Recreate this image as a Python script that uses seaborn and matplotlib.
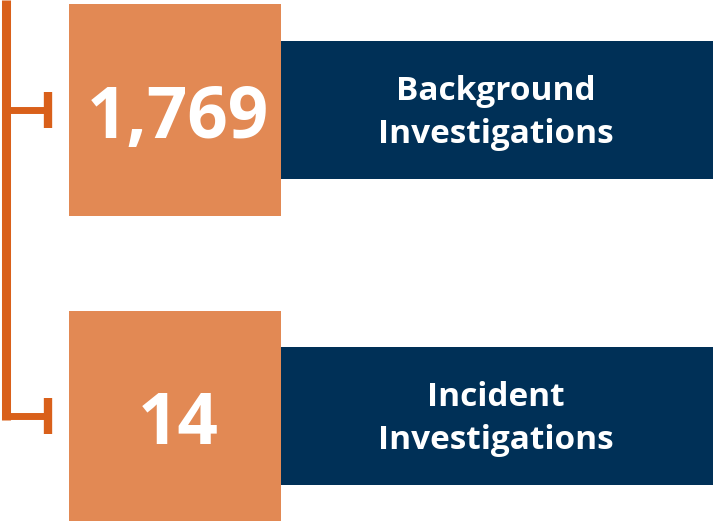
import matplotlib
matplotlib.use("Agg")
import matplotlib.pyplot as plt
import seaborn as sns
from matplotlib.patches import Rectangle

counts = ["1,769", "14"]
labels = ["Background\nInvestigations", "Incident\nInvestigations"]

ORANGE = "#E28954"
NAVY = "#003057"
BRACKET = "#D9601A"

sns.set_theme(style="white")
plt.rcParams["font.family"] = ["Open Sans", "DejaVu Sans"]

W, H = 713, 521
fig = plt.figure(figsize=(W / 100, H / 100), dpi=100)
ax = fig.add_axes([0, 0, 1, 1])
ax.set_xlim(0, W)
ax.set_ylim(H, 0)
ax.axis("off")

# layout (pixels)
box_tops = [4, 311]
box_h = [212, 210]
navy_tops = [41, 347]
navy_h = 138
branch_y = [110, 416]

# bracket
ax.plot([6, 6], [0, branch_y[-1] + 4], color=BRACKET, lw=6.5, solid_capstyle="butt")
for by in branch_y:
    ax.plot([6, 48], [by, by], color=BRACKET, lw=5, solid_capstyle="butt")
    ax.plot([48, 48], [by - 18, by + 18], color=BRACKET, lw=6, solid_capstyle="butt")

for i, (c, lab) in enumerate(zip(counts, labels)):
    ax.add_patch(Rectangle((281, navy_tops[i]), W - 281, navy_h, color=NAVY, lw=0))
    ax.add_patch(Rectangle((69, box_tops[i]), 212, box_h[i], color=ORANGE, lw=0))
    ax.text(178, box_tops[i] + box_h[i] / 2 + 9, c, color="white", fontsize=51,
            fontweight="bold", ha="center", va="center")
    ax.text(496, navy_tops[i] + navy_h / 2 + 3, lab, color="white", fontsize=24,
            fontweight="bold", ha="center", va="center", linespacing=1.4)

fig.savefig("out.png", dpi=100)
